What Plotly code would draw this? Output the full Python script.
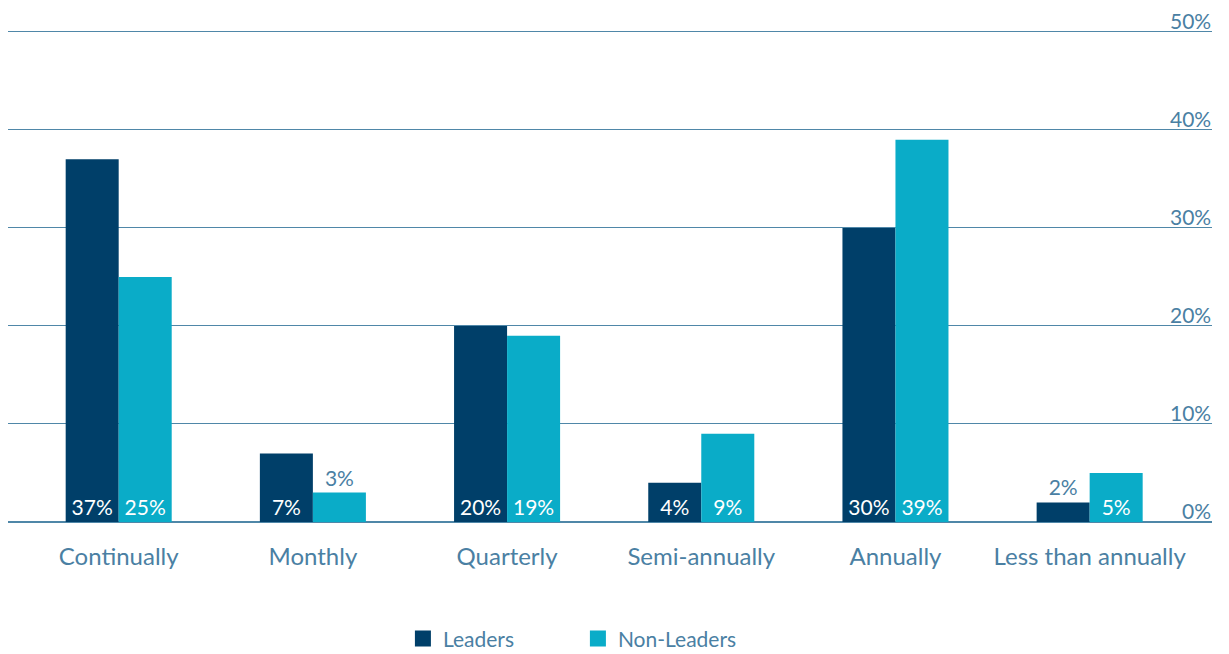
import plotly.graph_objects as go

categories = ["Continually", "Monthly", "Quarterly", "Semi-annually", "Annually", "Less than annually"]
leaders = [37, 7, 20, 4, 30, 2]
non_leaders = [25, 3, 19, 9, 39, 5]
y_ticks = [0, 10, 20, 30, 40, 50]
y_tick_labels = ["0%", "10%", "20%", "30%", "40%", "50%"]

DARK = "#003f69"
LIGHT = "#0aacc8"
TXT = "#4a80a3"
GRID = "#4f87a8"

def positions(vals):
    return ["inside" if v >= 4 else "outside" for v in vals]

def colors(vals):
    return ["white" if v >= 4 else TXT for v in vals]

fig = go.Figure()
for name, vals, col in [("Leaders", leaders, DARK), ("Non-Leaders", non_leaders, LIGHT)]:
    fig.add_trace(go.Bar(
        name=name, x=categories, y=vals, marker=dict(color=col, line=dict(width=0)),
        text=[f"{v}%" for v in vals], textposition=positions(vals),
        insidetextanchor="start", constraintext="none", cliponaxis=False,
        textfont=dict(family="Lato", size=21, color=colors(vals)),
        hoverinfo="skip", showlegend=False,
    ))
# legend entries with larger square symbols
for name, col in [("Leaders", DARK), ("Non-Leaders", LIGHT)]:
    fig.add_trace(go.Scatter(
        name=name, x=[categories[0]], y=[None], mode="markers",
        marker=dict(symbol="square", size=16, color=col), hoverinfo="skip",
    ))

# y tick labels sit above their gridlines, right-aligned
for v, lab in zip(y_ticks, y_tick_labels):
    fig.add_annotation(x=1, xref="paper", y=v, yref="y", text=lab, showarrow=False,
                       xanchor="right", yanchor="bottom", xshift=0, yshift=-2,
                       borderpad=0,
                       font=dict(family="Lato", size=21, color=TXT))

fig.update_layout(
    width=1229, height=654,
    margin=dict(l=0, r=25, t=22, b=140),
    barmode="group", bargap=0.454, bargroupgap=0,
    plot_bgcolor="white", paper_bgcolor="white",
    font=dict(family="Lato", color=TXT),
    xaxis=dict(range=[-0.57, 5.63], showgrid=False, showline=False, ticks="",
               tickfont=dict(size=24, color=TXT), ticklabelstandoff=18, automargin=False),
    yaxis=dict(range=[0, 50.2], side="right", tickvals=y_ticks, showticklabels=False,
               showgrid=True, gridcolor=GRID, gridwidth=1,
               zeroline=True, zerolinecolor=GRID, zerolinewidth=2, showline=False,
               ticks="", automargin=False),
    legend=dict(orientation="h", x=0.328, xanchor="left", y=-0.196, yanchor="top",
                font=dict(size=21, color=TXT), entrywidth=130, itemsizing="trace"),
    showlegend=True,
)

fig.write_html("out.html")
